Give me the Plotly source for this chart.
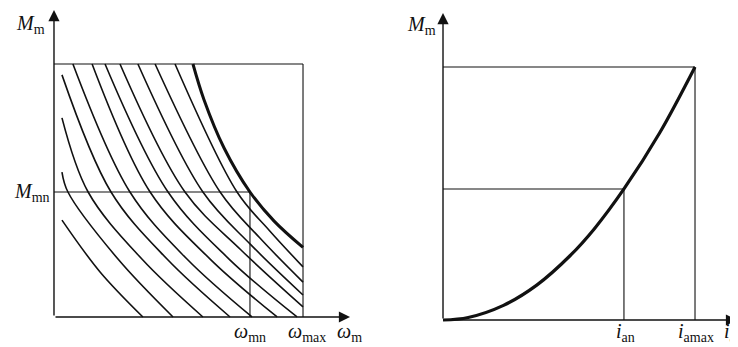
import plotly.graph_objects as go

# ---------------- data (normalised: box edge = 100) ----------------
# Left panel: family of torque/speed curves (omega, M)
curve_omega = [
    [3.2, 18.5, 35.7],
    [3.2, 5.6, 25.7, 47.8],
    [3.2, 13.7, 35.3, 59.8],
    [3.2, 22.9, 45.4, 70.7],
    [7.6, 30.5, 53.4, 79.5],
    [15.3, 38.6, 62.7, 89.6],
    [20.5, 45.8, 70.3, 97.6],
    [26.5, 52.6, 75.1, 100.0],
    [33.7, 59.8, 79.1, 100.0],
    [40.6, 66.7, 82.7, 100.0],
    [48.6, 73.5, 86.3, 100.0],
]
curve_M = [
    [38.3, 17.8, 0.0],
    [57.3, 49.4, 22.9, 0.0],
    [78.7, 49.4, 22.9, 0.0],
    [95.7, 49.4, 22.9, 0.0],
    [100.0, 49.4, 22.9, 0.0],
    [100.0, 49.4, 22.9, 0.0],
    [100.0, 49.4, 22.9, 0.0],
    [100.0, 49.4, 26.5, 4.0],
    [100.0, 49.4, 28.5, 8.7],
    [100.0, 49.4, 31.2, 13.8],
    [100.0, 49.4, 34.4, 19.8],
]
limit_omega = [55.8, 60.2, 68.3, 78.7, 88.4, 100.0]
limit_M = [100.0, 86.0, 66.8, 49.4, 37.9, 27.5]
omega_mn = 78.7
M_mn = 49.4
omega_max = 100.0
M_max = 100.0

# Right panel: torque vs current
ia_vals = [0.0, 10.0, 24.0, 37.2, 50.5, 60.0, 71.8, 86.0, 100.0]
Mi_vals = [0.0, 1.0, 5.8, 13.8, 25.5, 36.0, 51.8, 74.0, 100.0]
i_an = 71.8
M_an = 51.8
i_amax = 100.0

# axis extents (normalised units)
left_xrange = [-18.47, 126.5]
left_yrange = [-11.86, 122.13]
right_xrange = [-29.37, 117.06]
right_yrange = [-10.67, 123.32]
left_x_arrow = 118.9
left_y_arrow = 121.3
right_x_arrow = 116.7
right_y_arrow = 121.3

INK = "#111111"
FONT = "Liberation Serif"
FS = 20

fig = go.Figure()

def line(xs, ys, w, xa="x", ya="y", color=INK, shape="linear"):
    fig.add_trace(go.Scatter(x=xs, y=ys, mode="lines", xaxis=xa, yaxis=ya,
                             line=dict(color=color, width=w, shape=shape, smoothing=1.0),
                             hoverinfo="skip", showlegend=False, cliponaxis=False))

# ---- left panel ----
for xs, ys in zip(curve_omega, curve_M):
    line(xs, ys, 1.6, shape="spline")
line(limit_omega, limit_M, 3.0, shape="spline")
line([0, omega_max], [M_max, M_max], 1.1)
line([omega_max, omega_max], [0, M_max], 1.1)
line([0, omega_mn], [M_mn, M_mn], 1.1)
line([omega_mn, omega_mn], [0, M_mn], 1.1)

# ---- right panel ----
line(ia_vals, Mi_vals, 3.2, "x2", "y2", shape="spline")
line([0, i_amax], [M_max, M_max], 1.1, "x2", "y2")
line([i_amax, i_amax], [0, M_max], 1.1, "x2", "y2")
line([0, i_an], [M_an, M_an], 1.1, "x2", "y2")
line([i_an, i_an], [0, M_an], 1.1, "x2", "y2")

anns = []
def arrow(xh, yh, xt, yt, xr, yr):
    anns.append(dict(x=xh, y=yh, ax=xt, ay=yt, xref=xr, yref=yr, axref=xr, ayref=yr,
                     text="", showarrow=True, arrowhead=2, arrowsize=1.6,
                     arrowwidth=1.4, arrowcolor=INK, standoff=0, startstandoff=0))

arrow(left_x_arrow, 0, 0, 0, "x", "y")
arrow(0, left_y_arrow, 0, 0, "x", "y")
arrow(right_x_arrow, 0, 0, 0, "x2", "y2")
arrow(0, right_y_arrow, 0, 0, "x2", "y2")

def label(txt, x, y, xr, yr, xanchor="center", size=FS):
    anns.append(dict(text=txt, x=x, y=y, xref=xr, yref=yr, showarrow=False,
                     xanchor=xanchor, yanchor="middle",
                     font=dict(family=FONT, size=size, color=INK)))

label("<i>M</i><sub>m</sub>", -2.8, 115.8, "x", "y", "right")
label("<i>M</i><sub>mn</sub>", -0.8, M_mn, "x", "y", "right")
label("<i>ω</i><sub>mn</sub>", omega_mn, -6.3, "x", "y")
label("<i>ω</i><sub>max</sub>", omega_max + 1.5, -6.3, "x", "y")
label("<i>ω</i><sub>m</sub>", 118.5, -6.3, "x", "y")

label("<i>M</i><sub>m</sub>", -2.0, 116.6, "x2", "y2", "right")
label("<i>i</i><sub>an</sub>", i_an + 0.5, -5.1, "x2", "y2")
label("<i>i</i><sub>amax</sub>", i_amax + 0.3, -5.1, "x2", "y2")
label("<i>i</i><sub>a</sub>", 110.8, -5.1, "x2", "y2", "left")

ax_common = dict(visible=False, showgrid=False, zeroline=False, fixedrange=True)
split = 361 / 730
fig.update_layout(
    width=730, height=339,
    margin=dict(l=0, r=0, t=0, b=0),
    paper_bgcolor="white", plot_bgcolor="white",
    showlegend=False,
    xaxis=dict(domain=[0, split], range=left_xrange, **ax_common),
    yaxis=dict(domain=[0, 1], range=left_yrange, **ax_common),
    xaxis2=dict(domain=[split, 1], range=right_xrange, anchor="y2", **ax_common),
    yaxis2=dict(domain=[0, 1], range=right_yrange, anchor="x2", **ax_common),
    annotations=anns,
)

fig.write_html("out.html")
